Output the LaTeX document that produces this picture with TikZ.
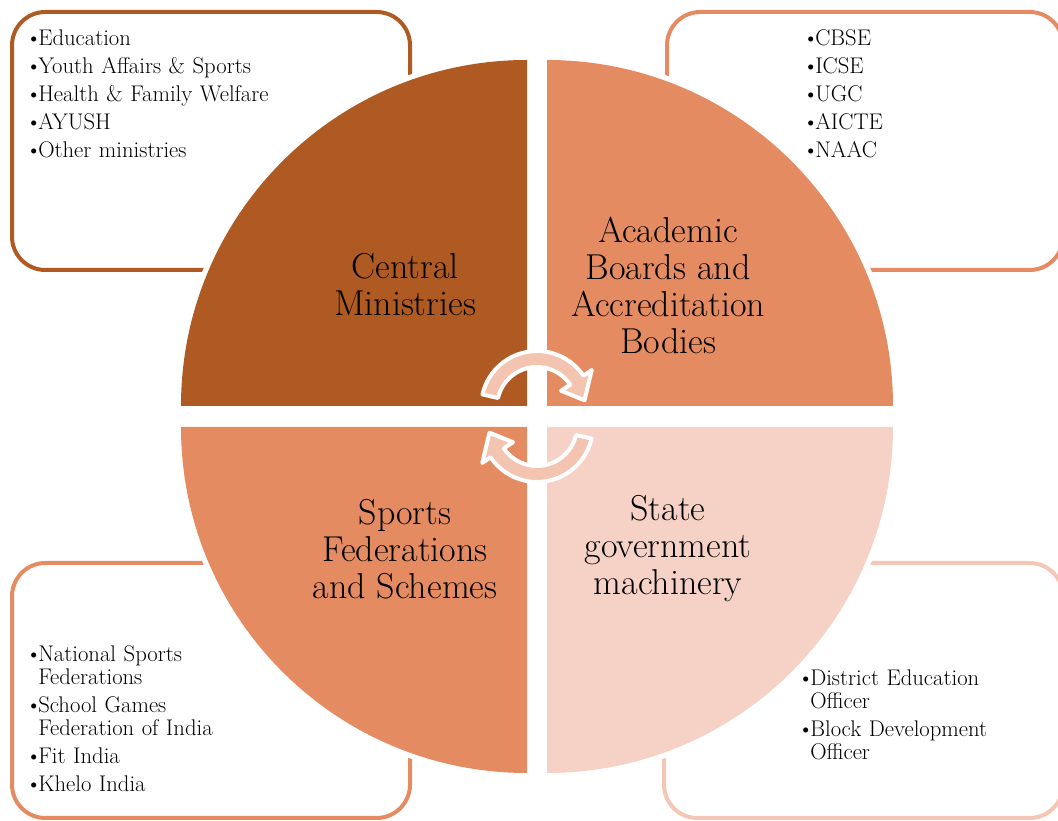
\documentclass[tikz,border=0pt]{standalone}
\usepackage{fontspec}
\usepackage{tikz}

\definecolor{ministry}{RGB}{174,90,34}
\definecolor{board}{RGB}{229,139,97}
\definecolor{statepink}{RGB}{246,210,198}
\definecolor{stateline}{RGB}{244,198,182}
\definecolor{cyclepink}{RGB}{243,196,176}
\newcommand{\blt}[1]{\par\hangindent=10.5pt\hangafter=1\noindent\makebox[10.5pt][l]{\hspace{1pt}\textbullet}#1}

\begin{document}
\begin{tikzpicture}[x=0.75pt, y=0.75pt,
    box/.style = {line width=3pt, rounded corners=25pt},
    halo/.style = {draw=white, line width=8pt},
    cyc/.style = {fill=cyclepink, draw=white, line width=3pt, line join=round},
    quadtext/.style = {align=center, font=\fontsize{27}{27.75}\selectfont},
    listtext/.style = {anchor=north west, inner sep=0pt, text width=225pt, align=left,
                       font=\fontsize{17}{17.25}\selectfont,
                       execute at begin node={\setlength{\parskip}{3.75pt}}}]

    \useasboundingbox (0,0) rectangle (1058,821);
    \clip (0,0) rectangle (1058,821);

    % outer boxes
    \draw[box, draw=ministry] (12,551) rectangle (410,809);
    \draw[box, draw=board] (667,551) rectangle (1063,809);
    \draw[box, draw=board] (12,3) rectangle (410,258);
    \draw[box, draw=stateline] (664,3) rectangle (1063,258);

    % white rims round the quarters
    \draw[halo] (527,415) ++(90:346) arc[start angle=90, end angle=180, radius=346];
    \draw[halo] (547,415) ++(0:346) arc[start angle=0, end angle=90, radius=346];
    \draw[halo] (527,394) ++(180:346) arc[start angle=180, end angle=270, radius=346];
    \draw[halo] (547,394) ++(270:346) arc[start angle=270, end angle=360, radius=346];

    % quarters
    \fill[ministry] (527,415) -- ++(90:346) arc[start angle=90, end angle=180, radius=346] -- cycle;
    \fill[board] (547,415) -- ++(0:346) arc[start angle=0, end angle=90, radius=346] -- cycle;
    \fill[board] (527,394) -- ++(180:346) arc[start angle=180, end angle=270, radius=346] -- cycle;
    \fill[statepink] (547,394) -- ++(270:346) arc[start angle=270, end angle=360, radius=346] -- cycle;

    % cycle arrows
    \begin{scope}[shift={(537,414)}]
        \filldraw[cyc] (167:56) arc[start angle=167, end angle=34, radius=56] -- (34:66) -- (8:48)
            -- (34:29) -- (34:40) arc[start angle=34, end angle=167, radius=40] -- cycle;
    \end{scope}
    \begin{scope}[shift={(537,395)}, rotate=180]
        \filldraw[cyc] (167:56) arc[start angle=167, end angle=34, radius=56] -- (34:66) -- (8:48)
            -- (34:29) -- (34:40) arc[start angle=34, end angle=167, radius=40] -- cycle;
    \end{scope}

    % quarter labels
    \node[quadtext] (cm) at (405,536) {Central\\Ministries};
    \node[quadtext] (ab) at (668,536) {Academic\\Boards and\\Accreditation\\Bodies};
    \node[quadtext] (sf) at (405,272) {Sports\\Federations\\and Schemes};
    \node[quadtext] (sg) at (668,272) {State\\government\\machinery};

    % lists
    \node[listtext] (cmlist) at (24,804) {\blt{Education}\blt{Youth Affairs \& Sports}\blt{Health \& Family Welfare}\blt{AYUSH}\blt{Other ministries}\par};
    \node[listtext] (ablist) at (801,804) {\blt{CBSE}\blt{ICSE}\blt{UGC}\blt{AICTE}\blt{NAAC}\par};
    \node[listtext] (sflist) at (24,188) {\blt{National Sports\newline Federations}\blt{School Games\newline Federation of India}\blt{Fit India}\blt{Khelo India}\par};
    \node[listtext] (sglist) at (796,164) {\blt{District Education\newline Officer}\blt{Block Development\newline Officer}\par};

\end{tikzpicture}
\end{document}
